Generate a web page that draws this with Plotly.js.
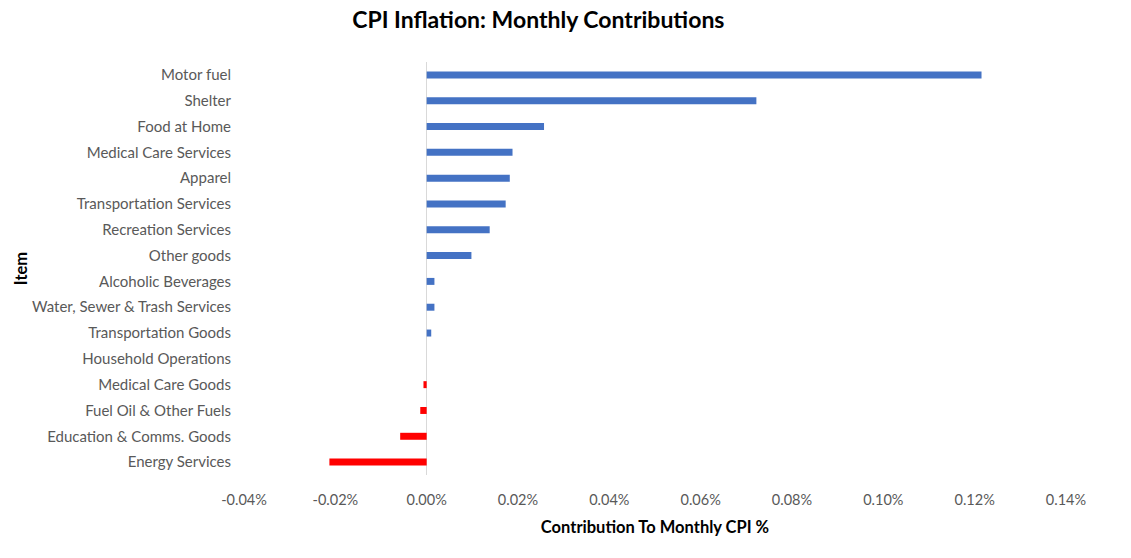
<!DOCTYPE html>
<html>
<head>
<meta charset="utf-8">
<script src="https://cdn.plot.ly/plotly-3.0.1.min.js"></script>
<style>html,body{margin:0;padding:0;background:#fff;}#chart{width:1131px;height:558px;}</style>
</head>
<body>
<div id="chart"></div>
<script>
const items = ["Motor fuel","Shelter","Food at Home","Medical Care Services","Apparel","Transportation Services","Recreation Services","Other goods","Alcoholic Beverages","Water, Sewer & Trash Services","Transportation Goods","Household Operations","Medical Care Goods","Fuel Oil & Other Fuels","Education & Comms. Goods","Energy Services"];
const contributions = [0.1215,0.0722,0.0257,0.0188,0.0182,0.0173,0.0138,0.0098,0.0017,0.0017,0.0010,0.0000,-0.0007,-0.0014,-0.0058,-0.0213];
const tickVals = [-0.04,-0.02,0,0.02,0.04,0.06,0.08,0.10,0.12,0.14];
const tickLabels = ["-0.04%","-0.02%","0.00%","0.02%","0.04%","0.06%","0.08%","0.10%","0.12%","0.14%"];

const colors = contributions.map(v => v < 0 ? "#FF0000" : "#4472C4");
const font = "Lato, 'Open Sans', sans-serif";

Plotly.newPlot("chart", [{
  type: "bar",
  orientation: "h",
  y: items,
  x: contributions,
  marker: {color: colors},
  hoverinfo: "x+y"
}], {
  width: 1131, height: 558,
  margin: {l: 244, r: 65, t: 62, b: 83},
  paper_bgcolor: "#fff", plot_bgcolor: "#fff",
  bargap: 0.73,
  showlegend: false,
  title: {text: "<b>CPI Inflation: Monthly Contributions</b>", x: 0.476, xanchor: "center", y: 0.964, yanchor: "middle", font: {family: font, size: 23, color: "#000"}},
  xaxis: {
    range: [-0.04, 0.14],
    tickvals: tickVals, ticktext: tickLabels,
    showgrid: false, zeroline: true, zerolinecolor: "#d9d9d9", zerolinewidth: 1,
    showline: false, ticks: "",
    ticklabelstandoff: 14,
    tickfont: {family: font, size: 14.5, color: "#595959"},
    title: {text: "<b>Contribution To Monthly CPI %</b>", font: {family: font, size: 16.5, color: "#000"}, standoff: 14}
  },
  yaxis: {
    type: "category", autorange: "reversed",
    showgrid: false, zeroline: false, showline: false, ticks: "",
    ticklabelstandoff: 12,
    tickfont: {family: font, size: 15, color: "#595959"},
    title: {text: "<b>Item</b>", font: {family: font, size: 16.5, color: "#000"}, standoff: 0}
  }
}, {displayModeBar: false, staticPlot: true});
</script>
</body>
</html>
